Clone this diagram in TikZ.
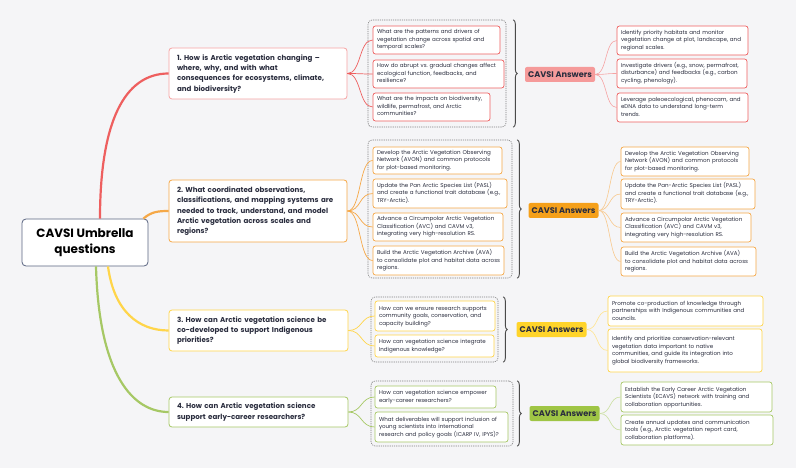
\documentclass[tikz,border=0pt]{standalone}
\usepackage{fontspec}
\setmainfont{Poppins}
\usetikzlibrary{decorations.pathreplacing}
\definecolor{bg}{HTML}{F5F5F7}
\definecolor{ink}{HTML}{2A2D3E}
\definecolor{rootc}{HTML}{5A6480}
\definecolor{cred}{HTML}{EE5F5F}
\definecolor{credl}{HTML}{F6A3A3}
\definecolor{credf}{HTML}{F59A9A}
\definecolor{cora}{HTML}{F5A847}
\definecolor{coral}{HTML}{F8C88C}
\definecolor{coraf}{HTML}{F5A01A}
\definecolor{cyel}{HTML}{FFD54A}
\definecolor{cyell}{HTML}{FFE48F}
\definecolor{cyelf}{HTML}{FFD42A}
\definecolor{cgrn}{HTML}{A6C865}
\definecolor{cgrnl}{HTML}{C9DE9E}
\definecolor{cgrnf}{HTML}{9FC545}
\definecolor{frm}{HTML}{808080}
\definecolor{brc}{HTML}{4A4A4A}
\frenchspacing
\newcommand\boxlines[1]{\begin{tabular}{@{}l@{}}#1\end{tabular}}
\begin{document}
\begin{tikzpicture}[x=1pt,y=-1pt,
  rootbox/.style={draw=rootc, fill=white, rounded corners=4pt, line width=0.8pt, align=center, font=\bfseries\fontsize{12}{16.5}\selectfont, text=black, minimum width=126pt, minimum height=47pt},
  branch/.style={draw=#1, fill=white, rounded corners=3pt, line width=0.8pt, inner xsep=8pt, font=\bfseries\fontsize{7.1}{10.3}\selectfont, text=ink},
  sub/.style={draw=#1, fill=white, rounded corners=2.5pt, line width=0.7pt, inner xsep=4pt, inner ysep=2pt, font=\fontsize{5.55}{7.5}\selectfont, text=ink},
  lab/.style={fill=#1, rounded corners=2pt, font=\bfseries\fontsize{8.2}{9}\selectfont, text=ink, minimum width=70pt, minimum height=15pt, inner sep=0pt},
  frame/.style={draw=frm, rounded corners=4pt, line width=0.6pt, dash pattern=on 1.2pt off 1pt},
  brace/.style={draw=brc, line width=0.9pt, decorate, decoration={brace, amplitude=4pt}},
  thick conn/.style={draw=#1, line width=2.2pt},
  conn/.style={draw=#1, line width=0.7pt},
  lconn/.style={draw=#1, line width=0.6pt}]
\fill[bg] (0,0) rectangle (796,468);
\useasboundingbox (0,0) rectangle (796,468);

% root
\node[rootbox] (root) at (85,242.5) {CAVSI Umbrella\\questions};

% branches
\node[branch=credl, minimum width=178pt, minimum height=51pt, text width=162pt] (b1) at (258,73.5) {\boxlines{1. How is Arctic vegetation changing –\\where, why, and with what\\consequences for ecosystems, climate,\\and biodiversity?}};
\node[branch=cora, minimum width=178pt, minimum height=62pt, text width=162pt] (b2) at (258,211) {\boxlines{2. What coordinated observations,\\classifications, and mapping systems are\\needed to track, understand, and model\\Arctic vegetation across scales and\\regions?}};
\node[branch=cyel, minimum width=179pt, minimum height=41pt, text width=163pt] (b3) at (258.5,330.5) {\boxlines{3. How can Arctic vegetation science be\\co-developed to support Indigenous\\priorities?}};
\node[branch=cgrn, minimum width=179pt, minimum height=30pt, text width=163pt] (b4) at (258.5,412) {\boxlines{4. How can Arctic vegetation science\\support early-career researchers?}};

% root connectors
\draw[thick conn=cred] ([xshift=15pt]root.north) .. controls +(0,-95) and +(-45,0) .. (b1.west);
\draw[thick conn=cora] ([xshift=-5pt]root.north east) .. controls +(8,-7) and +(-10,0) .. (b2.west);
\draw[thick conn=cyel] ([xshift=23pt]root.south) .. controls +(6,45) and +(-30,0) .. (b3.west);
\draw[thick conn=cgrn] ([xshift=11pt]root.south) .. controls +(3,110) and +(-35,0) .. (b4.west);

% frames
\node[frame, minimum width=138pt, minimum height=107pt] (f1) at (437,73.5) {};
\node[frame, minimum width=144pt, minimum height=138pt] (f2) at (440,209) {};
\node[frame, minimum width=127pt, minimum height=65pt] (f3) at (434.5,329.5) {};
\node[frame, minimum width=142pt, minimum height=65pt] (f4) at (442,413.5) {};

% group 1 questions
\node[sub=cred, minimum width=127pt, minimum height=28pt, text width=119pt] (q1a) at (436.5,40) {\boxlines{What are the patterns and drivers of\\vegetation change across spatial and\\temporal scales?}};
\node[sub=cred, minimum width=131pt, minimum height=28pt, text width=123pt] (q1b) at (438.5,74) {\boxlines{How do abrupt vs. gradual changes affect\\ecological function, feedbacks, and\\resilience?}};
\node[sub=cred, minimum width=117pt, minimum height=28pt, text width=109pt] (q1c) at (431.5,107) {\boxlines{What are the impacts on biodiversity,\\wildlife, permafrost, and Arctic\\communities?}};
% group 2 questions
\node[sub=cora, minimum width=129pt, minimum height=27pt, text width=121pt] (q2a) at (437.5,160.5) {\boxlines{Develop the Arctic Vegetation Observing\\Network (AVON) and common protocols\\for plot-based monitoring.}};
\node[sub=cora, minimum width=134pt, minimum height=29pt, text width=126pt] (q2b) at (440,193.5) {\boxlines{Update the Pan Arctic Species List (PASL)\\and create a functional trait database (e.g.,\\TRY-Arctic).}};
\node[sub=cora, minimum width=130pt, minimum height=28pt, text width=122pt] (q2c) at (438,227) {\boxlines{Advance a Circumpolar Arctic Vegetation\\Classification (AVC) and CAVM v3,\\integrating very high-resolution RS.}};
\node[sub=cora, minimum width=131pt, minimum height=29pt, text width=123pt] (q2d) at (438.5,260.5) {\boxlines{Build the Arctic Vegetation Archive (AVA)\\to consolidate plot and habitat data across\\regions.}};
% group 3 questions
\node[sub=cyel, minimum width=120pt, minimum height=30pt, text width=112pt] (q3a) at (435,316) {\boxlines{How can we ensure research supports\\community goals, conservation, and\\capacity building?}};
\node[sub=cyel, minimum width=119pt, minimum height=22pt, text width=111pt] (q3b) at (434.5,346) {\boxlines{How can vegetation science integrate\\Indigenous knowledge?}};
% group 4 questions
\node[sub=cgrn, minimum width=121pt, minimum height=22pt, text width=113pt] (q4a) at (435.5,397) {\boxlines{How can vegetation science empower\\early-career researchers?}};
\node[sub=cgrn, minimum width=133pt, minimum height=30pt, text width=125pt] (q4b) at (441.5,427) {\boxlines{What deliverables will support inclusion of\\young scientists into international\\research and policy goals (ICARP IV, IPYS)?}};

% branch -> question connectors
\foreach \t in {q1a,q1b,q1c} \draw[conn=cred] (b1.east) .. controls +(14,0) and +(-14,0) .. (\t.west);
\foreach \t in {q2a,q2b,q2c,q2d} \draw[conn=cora] (b2.east) .. controls +(14,0) and +(-14,0) .. (\t.west);
\foreach \t in {q3a,q3b} \draw[conn=cyel] (b3.east) .. controls +(14,0) and +(-14,0) .. (\t.west);
\foreach \t in {q4a,q4b} \draw[conn=cgrn] (b4.east) .. controls +(14,0) and +(-14,0) .. (\t.west);

% braces
\draw[brace] ([xshift=7pt]f1.north east) -- ([xshift=7pt]f1.south east);
\draw[brace] ([xshift=5pt]f2.north east) -- ([xshift=5pt]f2.south east);
\draw[brace] ([xshift=5pt]f3.north east) -- ([xshift=5pt]f3.south east);
\draw[brace] ([xshift=4pt]f4.north east) -- ([xshift=4pt]f4.south east);

% answer labels
\node[lab=credf] (ans1) at (560,74.5) {CAVSI Answers};
\node[lab=coraf] (ans2) at (563.5,210.5) {CAVSI Answers};
\node[lab=cyelf] (ans3) at (551.5,329.5) {CAVSI Answers};
\node[lab=cgrnf] (ans4) at (564.5,413.5) {CAVSI Answers};

% answers group 1
\node[sub=cred, minimum width=131pt, minimum height=29pt, text width=123pt] (a1a) at (682.5,40.5) {\boxlines{Identify priority habitats and monitor\\vegetation change at plot, landscape, and\\regional scales.}};
\node[sub=cred, minimum width=130pt, minimum height=29pt, text width=122pt] (a1b) at (682,73.5) {\boxlines{Investigate drivers (e.g., snow, permafrost,\\disturbance) and feedbacks (e.g., carbon\\cycling, phenology).}};
\node[sub=cred, minimum width=131pt, minimum height=29pt, text width=123pt] (a1c) at (682.5,107.5) {\boxlines{Leverage paleoecological, phenocam, and\\eDNA data to understand long-term\\trends.}};
% answers group 2
\node[sub=cora, minimum width=128pt, minimum height=29pt, text width=120pt] (a2a) at (685,161.5) {\boxlines{Develop the Arctic Vegetation Observing\\Network (AVON) and common protocols\\for plot-based monitoring.}};
\node[sub=cora, minimum width=134pt, minimum height=30pt, text width=126pt] (a2b) at (688,194) {\boxlines{Update the Pan-Arctic Species List (PASL)\\and create a functional trait database (e.g.,\\TRY-Arctic).}};
\node[sub=cora, minimum width=130pt, minimum height=29pt, text width=122pt] (a2c) at (686,227.5) {\boxlines{Advance a Circumpolar Arctic Vegetation\\Classification (AVC) and CAVM v3,\\integrating very high-resolution RS.}};
\node[sub=cora, minimum width=135pt, minimum height=29pt, text width=127pt] (a2d) at (688.5,261.5) {\boxlines{Build the Arctic Vegetation Archive (AVA)\\to consolidate plot and habitat data across\\regions.}};
% answers group 3
\node[sub=cyel, minimum width=155pt, minimum height=30pt, text width=147pt] (a3a) at (685.5,311) {\boxlines{Promote co-production of knowledge through\\partnerships with Indigenous communities and\\councils.}};
\node[sub=cyel, minimum width=154pt, minimum height=43pt, text width=146pt] (a3b) at (685,350.5) {\boxlines{Identify and prioritize conservation-relevant\\vegetation data important to native\\communities, and guide its integration into\\global biodiversity frameworks.}};
% answers group 4
\node[sub=cgrn, minimum width=151pt, minimum height=30pt, text width=143pt] (a4a) at (696.5,397) {\boxlines{Establish the Early Career Arctic Vegetation\\Scientists (ECAVS) network with training and\\collaboration opportunities.}};
\node[sub=cgrn, minimum width=152pt, minimum height=30pt, text width=144pt] (a4b) at (697,430) {\boxlines{Create annual updates and communication\\tools (e.g., Arctic vegetation report card,\\collaboration platforms).}};

% answer connectors
\foreach \t in {a1a,a1b,a1c} \draw[lconn=credl] (ans1.east) .. controls +(12,0) and +(-12,0) .. (\t.west);
\foreach \t in {a2a,a2b,a2c,a2d} \draw[lconn=coral] (ans2.east) .. controls +(12,0) and +(-12,0) .. (\t.west);
\foreach \t in {a3a,a3b} \draw[lconn=cyell] (ans3.east) .. controls +(12,0) and +(-12,0) .. (\t.west);
\foreach \t in {a4a,a4b} \draw[lconn=cgrnl] (ans4.east) .. controls +(12,0) and +(-12,0) .. (\t.west);
\end{tikzpicture}
\end{document}
